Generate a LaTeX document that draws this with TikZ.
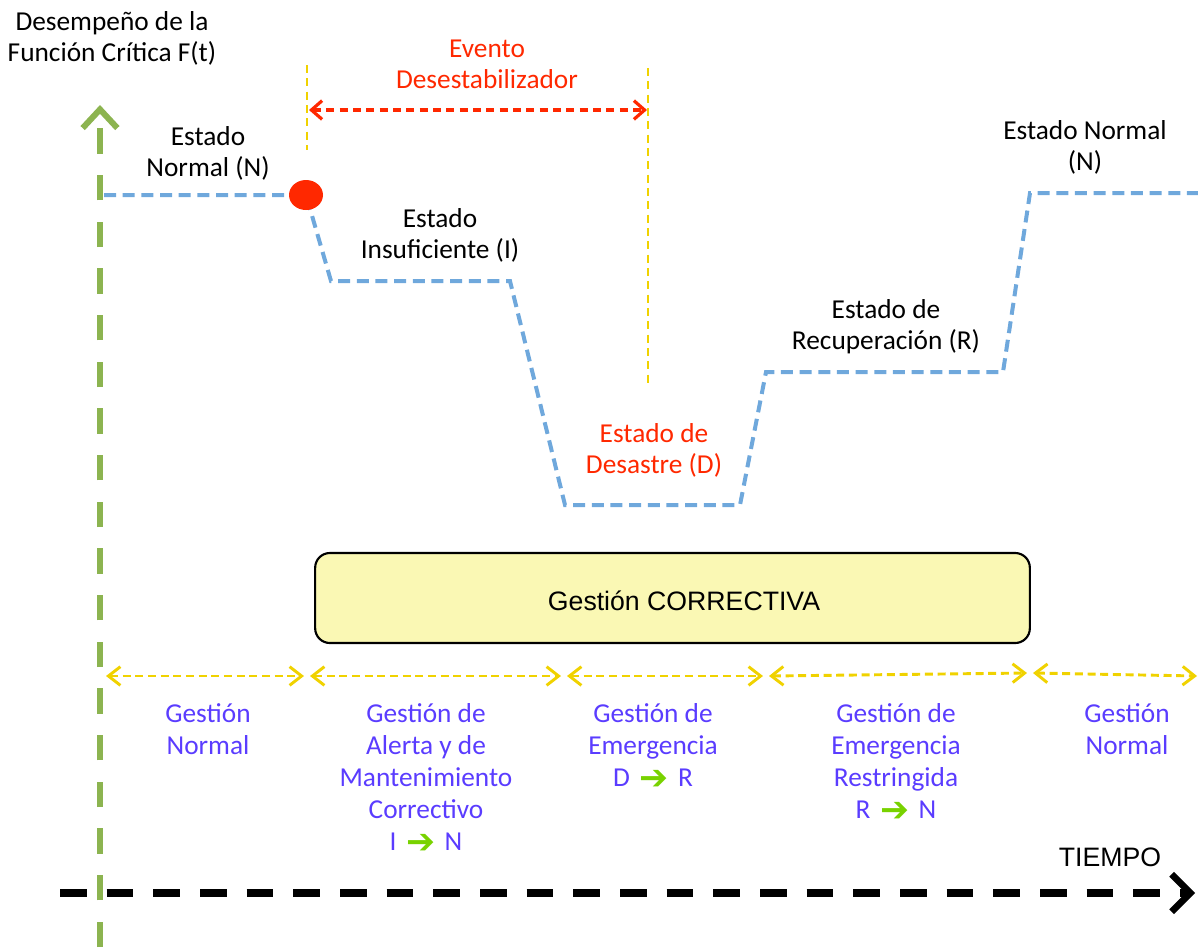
\documentclass[tikz,border=0pt]{standalone}
\usepackage{fontspec}
\setmainfont{Carlito}
\newfontfamily\arialf{Liberation Sans}
\newfontfamily\dejavu{DejaVu Sans}
\usetikzlibrary{arrows.meta}
\definecolor{curveblue}{RGB}{111,168,220}
\definecolor{axisgreen}{RGB}{140,180,80}
\definecolor{evred}{RGB}{255,40,0}
\definecolor{linegold}{RGB}{240,210,0}
\definecolor{mgmtblue}{RGB}{90,60,255}
\definecolor{boxfill}{RGB}{250,248,180}
\definecolor{arrgreen}{RGB}{120,210,0}
\tikzset{
  lbl/.style={align=center,font=\fontsize{20.5}{23.3}\selectfont,inner sep=0pt},
  mgmt/.style={align=center,font=\fontsize{20.5}{24}\selectfont,inner sep=0pt,text=mgmtblue},
  curve/.style={curveblue,line width=3pt,dash pattern=on 9pt off 5pt},
  goldv/.style={linegold,line width=1.5pt,dash pattern=on 6pt off 4pt},
  span/.style={linegold,line width=2.2pt,dash pattern=on 6pt off 3.5pt,
    {Straight Barb[length=9pt,width=14pt,line width=2.2pt]}-{Straight Barb[length=9pt,width=14pt,line width=2.2pt]}},
}
\newcommand{\garrow}{\hspace{0.35em}\smash{\raisebox{-0.12em}{\textcolor{arrgreen}{\dejavu\fontsize{26}{26}\selectfont ➔}}}\hspace{0.35em}}
\begin{document}
\begin{tikzpicture}[x=0.75pt,y=-0.75pt]
\useasboundingbox (0,0) rectangle (1198,947);
% axes
\coordinate (ybot) at (100,947);
\coordinate (ytop) at (100,105);
\draw[axisgreen,line width=4.5pt,dash pattern=on 19pt off 16pt,
  -{Straight Barb[length=14pt,width=26pt,line width=4.5pt]}] (ybot) -- (ytop);
\coordinate (xleft) at (60,893);
\coordinate (xright) at (1195,893);
\draw[black,line width=6pt,dash pattern=on 20pt off 15pt,
  -{Straight Barb[length=14pt,width=28pt,line width=5pt]}] (xleft) -- (xright);
\node[font=\arialf\fontsize{20}{24}\selectfont,inner sep=0pt] (tiempo) at (1110,857) {TIEMPO};
\node[lbl] (ylabel) at (112,38) {Desempeño de la\\Función Crítica F(t)};
% yellow verticals
\coordinate (v1t) at (307,65); \coordinate (v1b) at (307,150);
\coordinate (v2t) at (648,68); \coordinate (v2b) at (648,385);
\draw[goldv] (v1t) -- (v1b);
\draw[goldv] (v2t) -- (v2b);
% red event arrow
\coordinate (ea) at (309,110); \coordinate (eb) at (647,110);
\draw[evred,line width=2.4pt,dash pattern=on 6pt off 4pt,
  {Straight Barb[length=8pt,width=14pt,line width=2.4pt]}-{Straight Barb[length=8pt,width=14pt,line width=2.4pt]}] (ea) -- (eb);
\node[lbl,text=evred] (evento) at (487,64) {Evento\\Desestabilizador};
% blue curve
\coordinate (p0) at (104,195);
\coordinate (p1) at (306,195);
\coordinate (p2) at (331,281);
\coordinate (p3) at (510,281);
\coordinate (p4) at (565,505);
\coordinate (p5) at (740,505);
\coordinate (p6) at (766,372);
\coordinate (p7) at (1003,372);
\coordinate (p8) at (1030,193);
\coordinate (p9) at (1198,193);
\draw[curve] (p0) -- (p1) -- (p2) -- (p3) -- (p4) -- (p5) -- (p6) -- (p7) -- (p8) -- (p9);
\fill[evred] (p1) ellipse [x radius=17, y radius=15];
% state labels
\node[lbl] (sN1) at (208,153) {Estado\\Normal (N)};
\node[lbl] (sI) at (440,235) {Estado\\Insuficiente (I)};
\node[lbl,text=evred] (sD) at (654,450) {Estado de\\Desastre (D)};
\node[lbl] (sR) at (886,327) {Estado de\\Recuperación (R)};
\node[lbl] (sN2) at (1085,147) {Estado Normal\\(N)};
% box
\node[draw=black,line width=1.6pt,fill=boxfill,rounded corners=11pt,
  minimum width=536pt,minimum height=67.5pt,inner sep=0pt] (corr) at (672.5,598) {};
\node[font=\arialf\fontsize{20}{24}\selectfont,inner sep=0pt] (corrtext) at (684,601) {Gestión CORRECTIVA};
% spans
\coordinate (s0) at (106,676); \coordinate (s1) at (304,676);
\coordinate (s2) at (310,676); \coordinate (s3) at (561,676);
\coordinate (s4) at (567,676); \coordinate (s5) at (763,676);
\coordinate (s6) at (769,676); \coordinate (s7) at (1027,673);
\coordinate (s8) at (1033,673); \coordinate (s9) at (1197,676);
\draw[span] (s0) -- (s1);
\draw[span] (s2) -- (s3);
\draw[span] (s4) -- (s5);
\draw[span] (s6) -- (s7);
\draw[span] (s8) -- (s9);
% management labels
\node[mgmt,anchor=north] (g1) at (208,703) {Gestión\\Normal};
\node[mgmt,anchor=north] (g2) at (426,703) {Gestión de\\Alerta y de\\Mantenimiento\\Correctivo\\I\garrow N};
\node[mgmt,anchor=north] (g3) at (653,703) {Gestión de\\Emergencia\\D\garrow R};
\node[mgmt,anchor=north] (g4) at (896,703) {Gestión de\\Emergencia\\Restringida\\R\garrow N};
\node[mgmt,anchor=north] (g5) at (1127,703) {Gestión\\Normal};
\end{tikzpicture}
\end{document}
